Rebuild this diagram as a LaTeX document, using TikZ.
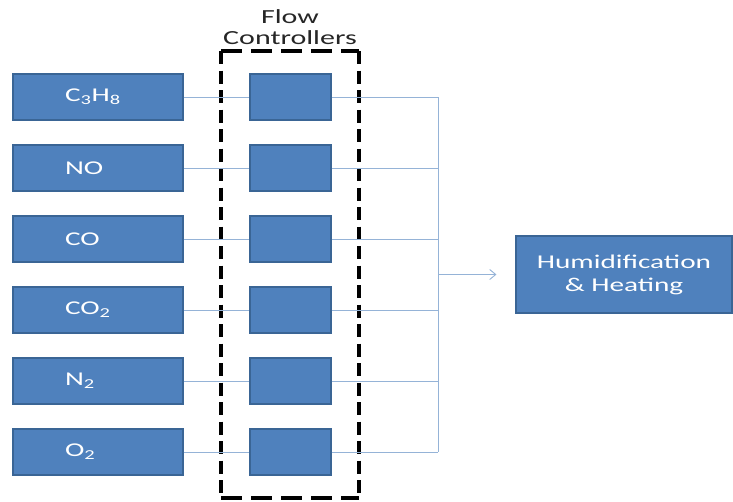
\documentclass[tikz,border=0pt]{standalone}
\usepackage{fontspec}
\setmainfont{Carlito}
\usetikzlibrary{arrows.meta}
\definecolor{boxfill}{HTML}{4F81BD}
\definecolor{boxline}{HTML}{3A6595}
\definecolor{wire}{HTML}{95B3D7}
\newcommand{\widetext}[1]{\scalebox{1.5}[1]{#1}}
\tikzset{
  gasbox/.style={draw=boxline, line width=1.2pt, fill=boxfill, text=white,
    minimum width=170pt, minimum height=46pt, inner xsep=52pt, text width=66pt, align=left,
    font=\fontsize{19.5}{22}\selectfont},
  fcbox/.style={draw=boxline, line width=1.2pt, fill=boxfill, minimum width=81pt, minimum height=46pt, inner sep=0pt},
  humbox/.style={draw=boxline, line width=1.2pt, fill=boxfill, text=white, minimum width=216pt, minimum height=77pt,
    inner sep=0pt, align=center, font=\fontsize{19.5}{23}\selectfont},
  wireline/.style={draw=wire, line width=0.9pt},
  hdash/.style={draw=black, line width=3.2pt, dash pattern=on 21pt off 9pt},
  vdash/.style={draw=black, line width=3.6pt, dash pattern=on 13pt off 6.5pt},
  titletext/.style={text=black!85, align=center, font=\fontsize{20}{21}\selectfont, inner sep=0pt}
}
\begin{document}
\begin{tikzpicture}[x=1pt,y=-1pt]
\useasboundingbox (0,0) rectangle (733,501);
% dashed group
\coordinate (tl) at (221,51);
\coordinate (tr) at (359,51);
\coordinate (bl) at (221,498);
\coordinate (br) at (359,498);
\draw[hdash] (tl) -- (tr);
\draw[hdash] (bl) -- (br);
\draw[vdash] (tl) -- (bl);
\draw[vdash] (tr) -- (br);
\node[titletext] (title) at (290,27) {\widetext{Flow}\\\widetext{Controllers}};
% gas boxes
\node[gasbox] (g1) at (98,97)  {\widetext{C\textsubscript{3}H\textsubscript{8}}};
\node[gasbox] (g2) at (98,168) {\widetext{NO}};
\node[gasbox] (g3) at (98,239) {\widetext{CO}};
\node[gasbox] (g4) at (98,310) {\widetext{CO\textsubscript{2}}};
\node[gasbox] (g5) at (98,381) {\widetext{N\textsubscript{2}}};
\node[gasbox] (g6) at (98,452) {\widetext{O\textsubscript{2}}};
% flow controllers
\foreach \i/\y in {1/97,2/168,3/239,4/310,5/381,6/452}{
  \node[fcbox] (f\i) at (290.5,\y) {};
  \coordinate (b\i) at (438,\y);
  \draw[wireline] (g\i) -- (f\i);
  \draw[wireline] (f\i) -- (b\i);
}
\draw[wireline] (b1) -- (b6);
\node[humbox] (hum) at (624,274.5) {\widetext{Humidification}\\\widetext{\& Heating}};
\coordinate (bm) at (438,274.5);
\draw[wireline, -{Straight Barb[length=6pt,width=10pt]}] (bm) -- ([xshift=-19pt]hum.west);
\end{tikzpicture}
\end{document}
